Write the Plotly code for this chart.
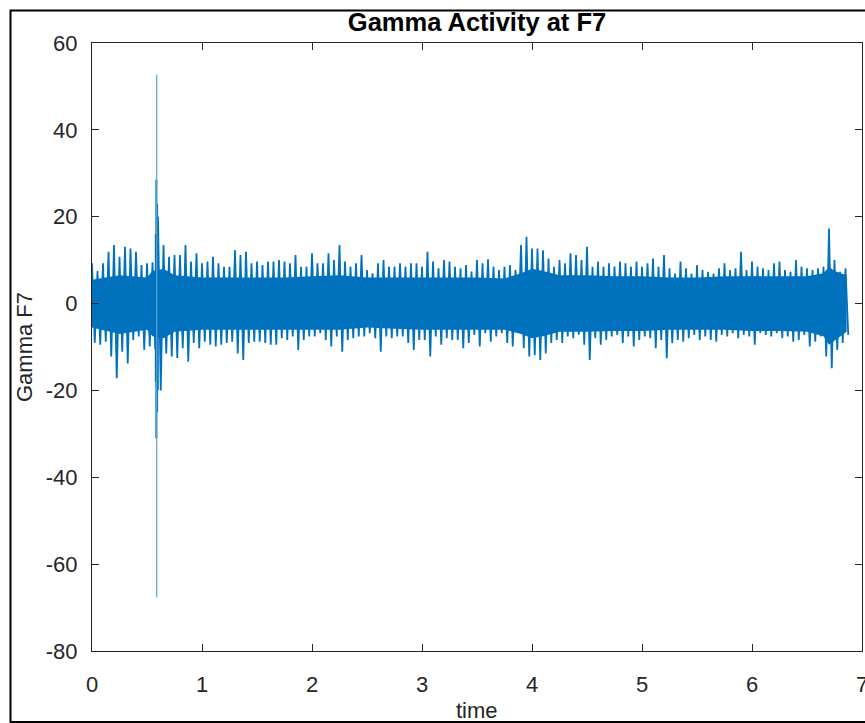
import numpy as np
import plotly.graph_objects as go

# ---- data (time in s, amplitude) ----
bin_step = 0.05  # envelope bins: 0.00, 0.05, ..., 6.85
env_hi = [
    9.3, 7.5, 9.3, 11.9, 13.5, 10.8, 13.1, 12.7, 11.9, 8.9,
    9.3, 9.5, 20.0, 13.5, 10.8, 11.2, 11.2, 13.5, 9.7, 11.6,
    9.3, 9.7, 10.8, 9.3, 8.5, 8.5, 12.3, 11.2, 11.9, 9.3,
    9.7, 8.9, 9.7, 9.7, 10.0,
    9.7, 9.3, 11.2, 8.5, 8.5, 11.6, 9.3, 9.3, 11.6, 10.0,
    13.5, 9.7, 8.5, 9.3, 11.2, 7.7, 7.0, 9.3, 10.0, 8.5,
    8.5, 9.3, 8.5, 9.3, 9.3, 8.5, 11.9, 9.7, 8.1, 10.0,
    9.7, 8.5, 8.1, 8.9,
    7.4, 10.0, 9.3, 10.2, 8.5, 7.7, 8.5, 8.9, 7.7, 13.5,
    15.4, 12.7, 12.7, 12.3, 10.4, 8.5, 10.0, 9.3, 11.6, 11.2,
    10.0, 13.1, 8.5, 9.7, 8.5, 9.3, 8.5, 9.7, 9.3, 8.5,
    9.7, 8.5, 9.3, 10.4, 8.5,
    11.2, 8.1, 6.9, 9.7, 8.1, 6.9, 8.9, 7.7, 7.3, 6.9,
    8.1, 9.3, 7.7, 8.1, 11.9, 7.7, 9.7, 8.5, 8.1, 7.7,
    9.3, 9.7, 7.7, 7.3, 10.0, 8.5, 8.1, 7.7, 8.1, 8.5,
    17.3, 10.0, 7.3, 8.1,
]
env_lo = [
    -9.0, -9.5, -8.8, -12.2, -17.2, -11.1, -13.8, -8.4, -7.6, -10.7,
    -9.9, -10.5, -20.0, -11.5, -12.2, -12.5, -10.3, -13.4, -9.1, -10.3,
    -8.8, -9.5, -9.9, -9.5, -9.1, -8.8, -11.5, -13.0, -9.1, -8.8,
    -8.8, -9.1, -9.5, -9.5, -8.0,
    -8.4, -7.6, -10.7, -8.4, -7.6, -7.6, -6.8, -8.4, -9.9, -7.6,
    -11.1, -8.4, -8.0, -7.6, -7.6, -6.8, -8.0, -11.1, -7.6, -8.0,
    -7.6, -7.6, -9.1, -10.7, -8.4, -8.4, -12.2, -7.6, -9.5, -8.0,
    -8.4, -8.4, -10.3, -9.1,
    -7.2, -9.9, -6.8, -8.8, -7.6, -6.8, -9.1, -9.9, -6.1, -10.3,
    -12.2, -11.9, -13.0, -11.5, -9.1, -8.4, -9.1, -7.6, -8.0, -7.2,
    -9.5, -13.0, -8.0, -9.5, -8.4, -7.6, -7.2, -9.1, -7.6, -9.9,
    -8.4, -7.6, -8.0, -10.3, -8.4,
    -12.6, -9.1, -8.4, -8.8, -8.0, -7.2, -8.4, -7.6, -8.4, -8.8,
    -7.2, -7.6, -6.8, -8.0, -7.2, -7.6, -9.5, -6.8, -7.2, -7.6,
    -6.8, -8.0, -7.6, -8.8, -8.4, -7.2, -9.9, -8.8, -7.6, -12.2,
    -14.9, -10.7, -9.1, -7.2,
]

# solid core of the trace
core_t = [0.0, 0.25, 0.5, 0.55, 0.65, 0.75, 1.0, 1.25, 1.5, 1.75, 2.0, 2.25, 2.5,
          2.75, 3.0, 3.25, 3.5, 3.75, 3.9, 4.0, 4.1, 4.25, 4.5, 4.75, 5.0, 5.25,
          5.5, 5.75, 6.0, 6.25, 6.5, 6.65, 6.7, 6.75, 6.86]
core_hi = [5.5, 6.5, 6.0, 7.5, 8.0, 6.5, 6.0, 6.0, 6.0, 6.0, 6.3, 6.5, 6.0,
           6.0, 6.0, 6.0, 6.0, 5.8, 7.0, 8.0, 7.5, 6.5, 6.5, 6.3, 6.3, 6.0,
           6.0, 6.3, 6.3, 6.3, 6.3, 7.0, 8.5, 7.5, 6.5]
core_lo = [-5.5, -7.0, -6.0, -7.5, -8.0, -6.5, -6.0, -6.0, -6.0, -6.0, -6.0, -6.0, -5.5,
           -5.8, -6.0, -6.0, -6.0, -6.0, -7.0, -8.0, -7.5, -6.5, -6.5, -6.3, -6.3, -6.0,
           -6.0, -6.0, -6.3, -6.3, -6.5, -7.5, -9.5, -8.5, -6.5]

# burst around t = 0.59
burst_t = [0.580, 0.585, 0.592, 0.598]
burst_hi = [16.0, 28.5, 23.0, 17.0]
burst_lo = [-18.0, -31.0, -25.0, -20.0]
spike_t = [0.588]
spike_hi = [52.7]
spike_lo = [-67.6]

# tick labels
x_ticks = [0, 1, 2, 3, 4, 5, 6, 7]
y_ticks = [-80, -60, -40, -20, 0, 20, 40, 60]

BLUE = "#0072BD"
AX = "#262626"
FONT = "Liberation Sans, Arial, Helvetica, sans-serif"

# ---- build traces ----
bins = np.arange(len(env_hi)) * bin_step
zx, zy = [], []
for t, h, l in zip(bins, env_hi, env_lo):
    zx += [t, t + bin_step / 2]
    zy += [h, l]

fig = go.Figure()
fig.add_trace(go.Scatter(
    x=core_t + core_t[::-1], y=core_hi + core_lo[::-1],
    fill="toself", fillcolor=BLUE, mode="lines", line=dict(width=0, color=BLUE),
    hoverinfo="skip", showlegend=False))
fig.add_trace(go.Scatter(x=zx, y=zy, mode="lines", line=dict(color=BLUE, width=1.8),
                         hoverinfo="skip", showlegend=False))

def segs(ts, his, los):
    xs, ys = [], []
    for t, h, l in zip(ts, his, los):
        xs += [t, t, None]
        ys += [l, h, None]
    return xs, ys

bx, by = segs(burst_t, burst_hi, burst_lo)
fig.add_trace(go.Scatter(x=bx, y=by, mode="lines", line=dict(color=BLUE, width=2),
                         hoverinfo="skip", showlegend=False))
sx, sy = segs(spike_t, spike_hi, spike_lo)
fig.add_trace(go.Scatter(x=sx, y=sy, mode="lines", line=dict(color="#5DA3D8", width=1.2),
                         hoverinfo="skip", showlegend=False))

axis_common = dict(
    showgrid=False, zeroline=False, showline=True, linecolor=AX, linewidth=1,
    mirror="ticks", ticks="inside", ticklen=7, tickwidth=1, tickcolor=AX,
    tickfont=dict(family=FONT, size=22, color=AX), ticklabeloverflow="allow",
    automargin=False,
)
fig.update_xaxes(range=[0, 7], tickvals=x_ticks, ticktext=[str(v) for v in x_ticks],
                 ticklabelstandoff=14, **axis_common)
fig.update_yaxes(range=[-80, 60], tickvals=y_ticks, ticktext=[str(v) for v in y_ticks],
                 ticklabelstandoff=9, **axis_common)

W, H = 865, 723
L, R, T, B = 92, 3, 43, 72
pw, ph = W - L - R, H - T - B

def px_x(x):
    return (x - L) / pw

def px_y(y):
    return (H - B - y) / ph

fig.update_layout(
    width=W, height=H, autosize=False,
    margin=dict(l=L, r=R, t=T, b=B, pad=0, autoexpand=False),
    paper_bgcolor="white", plot_bgcolor="white",
    font=dict(family=FONT, color=AX),
    title=dict(text="<b>Gamma Activity at F7</b>", x=px_x(477), xref="paper", xanchor="center",
               y=1 - 22 / H, yref="container", yanchor="middle",
               font=dict(family=FONT, size=25.5, color="black")),
    annotations=[
        dict(text="time", x=px_x(477), y=px_y(710), xref="paper", yref="paper",
             xanchor="center", yanchor="middle", showarrow=False,
             font=dict(family=FONT, size=22, color=AX)),
        dict(text="Gamma F7", x=px_x(24), y=px_y(347), xref="paper", yref="paper",
             xanchor="center", yanchor="middle", textangle=-90, showarrow=False,
             font=dict(family=FONT, size=22, color=AX)),
    ],
    shapes=[dict(type="rect", xref="paper", yref="paper",
                 x0=px_x(10.5), x1=px_x(866), y0=px_y(722), y1=px_y(10.5),
                 line=dict(color="black", width=2), fillcolor="rgba(0,0,0,0)")],
)

fig.write_html("out.html", config={"displayModeBar": False})
